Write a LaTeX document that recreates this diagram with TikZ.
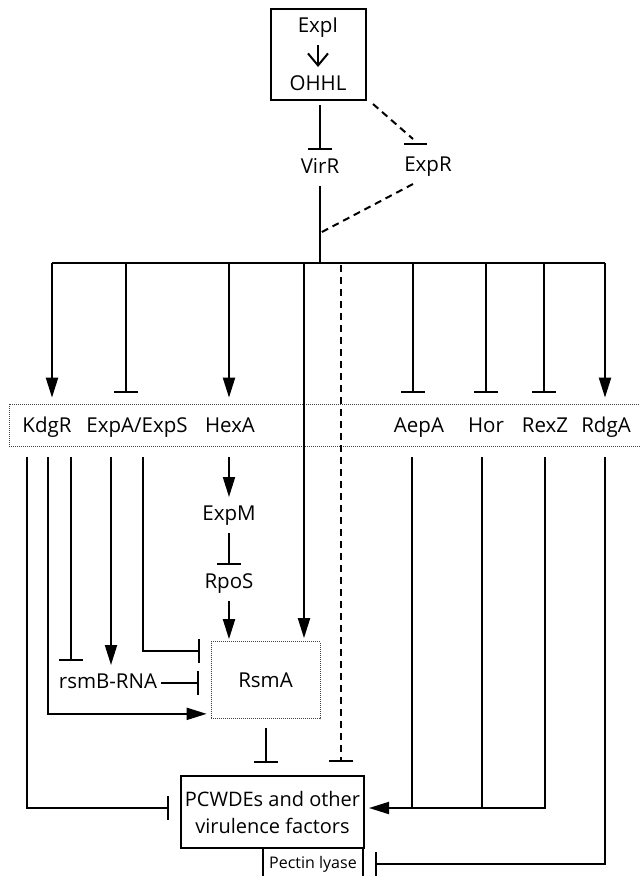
\documentclass[tikz,border=0pt]{standalone}
\usepackage{fontspec}
\setmainfont{Open Sans}
\usetikzlibrary{arrows.meta,calc}

\begin{document}
\begin{tikzpicture}[x=1pt,y=1pt,line width=2pt,
	lab/.style={font=\fontsize{20.5}{24}\selectfont,text height=14pt,text depth=4pt,inner xsep=3pt,inner ysep=8pt},
	act/.style={-{Triangle[length=20pt,width=12pt]}},
	inh/.style={-{Bar[width=24pt]}},
	dashline/.style={dash pattern=on 7pt off 5pt},
	dotbox/.style={draw=black!75,line width=0.7pt,dash pattern=on 1pt off 1pt}]
\useasboundingbox (0,0) rectangle (640,-876);
\node [draw,minimum width=95pt,minimum height=91pt] (qs) at (318.5,-54.5) {};
\node [lab] (expi) at (318,-27) {ExpI};
\node [lab] (ohhl) at (318,-85) {OHHL};
\node [lab] (virr) at (320,-168) {VirR};
\node [lab] (expr) at (428,-166) {ExpR};
\node [dotbox,minimum width=634pt,minimum height=42pt] (row) at (326,-425) {};
\node [lab] (kdgr) at (47,-427) {KdgR};
\node [lab] (expas) at (137,-427) {ExpA/ExpS};
\node [lab] (hexa) at (230,-427) {HexA};
\node [lab] (aepa) at (419,-427) {AepA};
\node [lab] (hor) at (486,-427) {Hor};
\node [lab] (rexz) at (545,-427) {RexZ};
\node [lab] (rdga) at (606,-427) {RdgA};
\node [lab] (expm) at (229,-515) {ExpM};
\node [lab] (rpos) at (229,-583) {RpoS};
\node [lab] (rsmb) at (108,-683) {rsmB-RNA};
\node [dotbox,font=\fontsize{20.5}{24}\selectfont,minimum width=109pt,minimum height=77pt] (rsma) at (265.5,-680) {RsmA};
\node [draw,font=\fontsize{20}{27}\selectfont,align=center,minimum width=183pt,minimum height=72pt,inner sep=0pt] (pcwde) at (272.5,-812) {PCWDEs and other\\virulence factors};
\node [draw,font=\fontsize{16}{19}\selectfont,minimum width=100pt,minimum height=32pt,inner sep=0pt] (pectin) at (313,-864) {Pectin lyase};
\coordinate (bus) at (0,-263);
\coordinate (join) at (320,-233);
\coordinate (tipa) at ($(row.north)+(0,6)$);
\coordinate (tipb) at ($(row.north)+(0,11)$);
\coordinate (lo) at ($(row.south)+(0,-11)$);
\coordinate (vf) at ($(pcwde.east)+(4,4)$);

\draw [-{Straight Barb[length=12pt,width=20pt]}] (expi) -- (ohhl);
\draw [inh,shorten <=4pt] (qs.south -| virr) -- (virr);
\draw [dashline] ($(qs.south east)+(6,-3)$) -- ($(expr.north)+(-15,9)$);
\draw ($(expr.north)+(-24,4)$) -- ($(expr.north)+(-1,4)$);
\draw [dashline] ($(expr.south)+(-15,0)$) -- (join);
\draw (virr) -- (virr |- bus);
\draw (52,0 |- bus) -- (605,0 |- bus);

\draw [act] (52,0 |- bus) -- (52,0 |- tipa);
\draw [inh] (126,0 |- bus) -- (126,0 |- tipb);
\draw [act] (229,0 |- bus) -- (229,0 |- tipa);
\draw [inh] (413,0 |- bus) -- (413,0 |- tipb);
\draw [inh] (486,0 |- bus) -- (486,0 |- tipb);
\draw [inh] (544,0 |- bus) -- (544,0 |- tipb);
\draw [act] (605,0 |- bus) -- (605,0 |- tipa);
\draw [act] (304,0 |- bus) -- ($(304,0 |- rsma.north)+(0,3)$);
\draw [inh,dashline] ($(341,0 |- bus)+(0,-2)$) -- ($(341,0 |- pcwde.north)+(0,13)$);

\draw [inh] (27,0 |- lo) |- ($(pcwde.west)+(-11,4)$);
\draw [act] (48,0 |- lo) |- ($(rsma.south west)+(-4,5)$);
\draw [inh] (71,0 |- lo) -- ($(71,0 |- rsmb.north)+(0,4)$);
\draw [act] (111,0 |- lo) -- (111,0 |- rsmb.north);
\draw [inh] (143,0 |- lo) |- ($(rsma.north west)+(-11,-10)$);
\draw [act] (expm |- lo) -- (expm);
\draw [inh] (expm) -- (rpos);
\draw [act] (rpos) -- ($(rpos |- rsma.north)+(0,2)$);
\draw [inh] (rsmb) -- ($(rsma.west |- rsmb)+(-12,0)$);
\draw [inh] ($(rsma.south)+(0,-9)$) -- ($(rsma.south |- pcwde.north)+(0,12)$);

\draw (412,0 |- lo) -- (412,0 |- vf);
\draw (482,0 |- lo) -- (482,0 |- vf);
\draw [act] (545,0 |- lo) |- (vf);
\draw [inh] (605,0 |- lo) |- ($(pectin.east)+(11,0)$);
\end{tikzpicture}
\end{document}
